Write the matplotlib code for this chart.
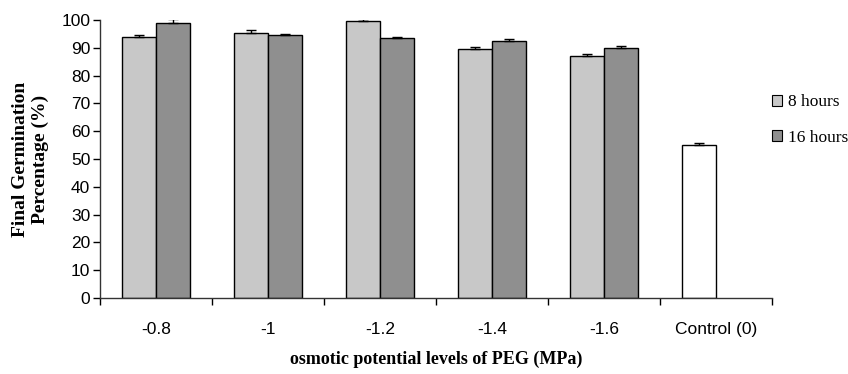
import numpy as np
import matplotlib
matplotlib.use('Agg')
import matplotlib.pyplot as plt
from matplotlib.patches import Patch

categories = ['-0.8', '-1', '-1.2', '-1.4', '-1.6', 'Control (0)']
hours_8 = [94.0, 95.2, 99.7, 89.6, 87.2]
hours_8_err = [0.5, 1.1, 0.5, 0.6, 0.7]
hours_16 = [99.0, 94.6, 93.4, 92.3, 90.0]
hours_16_err = [1.2, 0.5, 0.6, 0.7, 0.7]
control = [55.1]
control_err = [0.6]

fig = plt.figure(figsize=(8.48, 3.74), dpi=100)
ax = fig.add_axes([100 / 848, 1 - 298 / 374, 672 / 848, 278 / 374])

w = 0.3
x = np.arange(len(categories))
xt = x[:5]
kw = dict(edgecolor='black', linewidth=1.0, width=w, align='edge',
          error_kw=dict(ecolor='black', elinewidth=1, capsize=3.5, capthick=1))
ax.bar(xt - w, hours_8, yerr=[np.zeros(5), hours_8_err], color='#c8c8c8', **kw)
ax.bar(xt, hours_16, yerr=[np.zeros(5), hours_16_err], color='#8f8f8f', **kw)
# control has only one bar, sitting in the "8 hours" slot
ax.bar(x[5:] - w, control, yerr=[[0], control_err], color='white', **kw)

ax.set_xlim(-0.5, 5.5)
ax.set_ylim(0, 100)
ax.set_yticks(np.arange(0, 101, 10))
ax.set_xticks(x)
ax.set_xticklabels(categories, fontfamily='Liberation Sans', fontsize=12.5)
ax.set_xticks(np.arange(-0.5, 6.0, 1), minor=True)
ax.tick_params(axis='x', which='major', length=0, pad=17)
ax.tick_params(axis='x', which='minor', length=5, width=1, direction='out')
ax.tick_params(axis='y', length=5, width=1, direction='out', pad=2)
for lbl in ax.get_yticklabels():
    lbl.set_fontfamily('Liberation Sans')
    lbl.set_fontsize(12.5)
for s in ['top', 'right']:
    ax.spines[s].set_visible(False)
for s in ['left', 'bottom']:
    ax.spines[s].set_linewidth(1)
    ax.spines[s].set_color('#333333')

ax.set_xlabel('osmotic potential levels of PEG (MPa)', fontfamily='Liberation Serif',
              fontweight='bold', fontsize=13, labelpad=10)
ax.set_ylabel('Final Germination\nPercentage (%)', fontfamily='Liberation Serif',
              fontweight='bold', fontsize=14, labelpad=9, linespacing=1.2)

handles = [Patch(facecolor='#c8c8c8', edgecolor='black', linewidth=0.8),
           Patch(facecolor='#8f8f8f', edgecolor='black', linewidth=0.8)]
fig.legend(handles, ['8 hours', '16 hours'], loc='center left',
           bbox_to_anchor=(772 / 848, 1 - 120 / 374), frameon=False,
           prop=dict(family='Liberation Serif', size=12.5),
           handlelength=0.55, handleheight=0.55, handletextpad=0.35, labelspacing=1.1,
           borderpad=0, borderaxespad=0)

fig.savefig('out.png', dpi=100)
